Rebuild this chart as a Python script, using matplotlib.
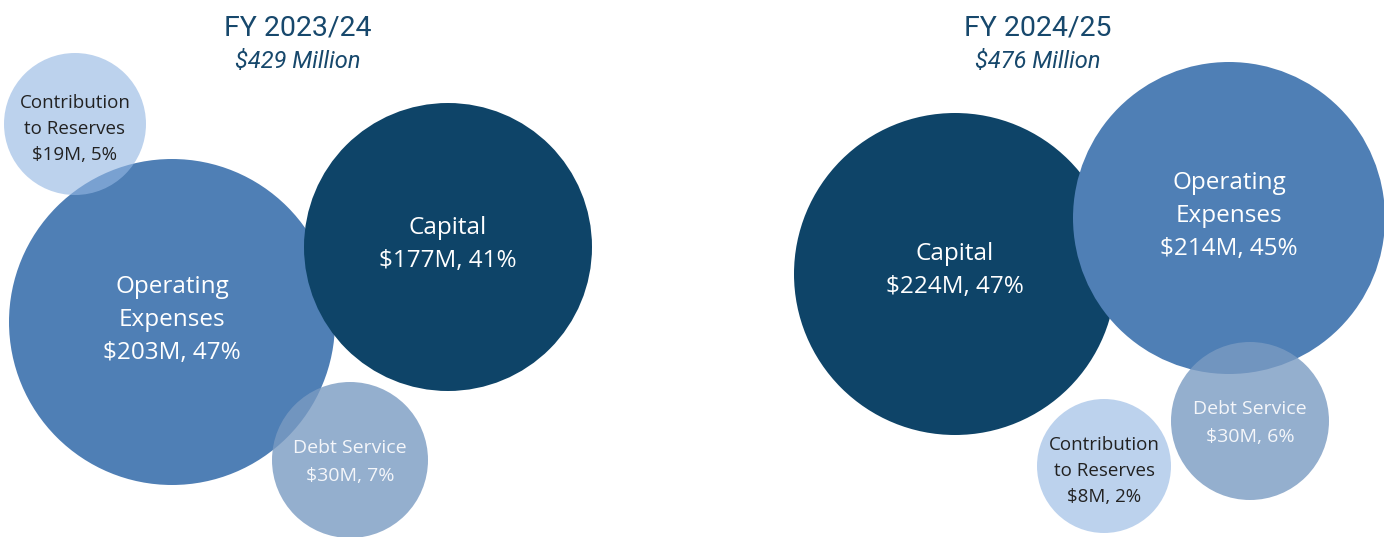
import matplotlib.pyplot as plt
from matplotlib.patches import Circle

# datos de cada año fiscal
years = ["FY 2023/24", "FY 2024/25"]
totals = ["$429 Million", "$476 Million"]
categories = ["Capital", "Operating\nExpenses", "Debt Service", "Contribution\nto Reserves"]
values_2324 = [177, 203, 30, 19]
values_2425 = [224, 214, 30, 8]
pct_2324 = [41, 47, 7, 5]
pct_2425 = [47, 45, 6, 2]

# estilo por categoría: color, alpha, color del texto, tamaño, desplazamiento y, interlineado
styles = [
    ("#0e4468", 1.0, "white", 17.5, -3, 1.5),
    ("#4f7fb5", 1.0, "white", 17.5, -2, 1.5),
    ("#7a9bc2", 0.8, "#f4f6fa", 14, 2, 1.75),
    ("#94b7e3", 0.62, "#222222", 13.5, 5, 1.55),
]

# disposición de las burbujas (centro x, centro y, radio) en píxeles
layout_2324 = [(448, 247, 144), (172, 322, 163), (350, 460, 78), (75, 124, 71)]
layout_2425 = [(955, 274, 161), (1229, 218, 156), (1250, 421, 79), (1104, 466, 67)]
draw_order_2324 = [1, 0, 3, 2]
draw_order_2425 = [0, 1, 2, 3]
title_x = [298, 1038]

fig = plt.figure(figsize=(13.84, 5.37), dpi=100)
ax = fig.add_axes([0, 0, 1, 1])
ax.set_xlim(0, 1384)
ax.set_ylim(537, 0)
ax.axis("off")

groups = [
    (values_2324, pct_2324, layout_2324, draw_order_2324),
    (values_2425, pct_2425, layout_2425, draw_order_2425),
]

for g, (vals, pcts, lay, order) in enumerate(groups):
    for z, i in enumerate(order):
        cx, cy, r = lay[i]
        color, alpha, tcolor, fsize, dy, lsp = styles[i]
        ax.add_patch(Circle((cx, cy), r, facecolor=color, alpha=alpha,
                            edgecolor="none", zorder=2 + z))
        label = f"{categories[i]}\n${vals[i]}M, {pcts[i]}%"
        ax.text(cx, cy + dy, label, ha="center", va="center", color=tcolor,
                fontsize=fsize, family="Open Sans", linespacing=lsp,
                zorder=10)
    ax.text(title_x[g], 28, years[g], ha="center", va="center",
            fontsize=20.5, color="#17486c", family="Roboto")
    ax.text(title_x[g], 62, totals[g], ha="center", va="center",
            fontsize=17, color="#17486c", style="italic", family="Roboto")

fig.savefig("out.png", dpi=100)
